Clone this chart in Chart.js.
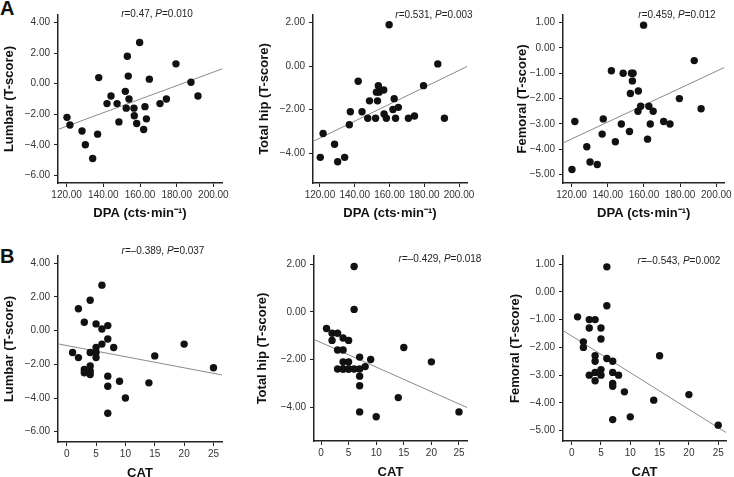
<!DOCTYPE html>
<html>
<head>
<meta charset="utf-8">
<script src="https://cdn.jsdelivr.net/npm/chart.js@4.4.1/dist/chart.umd.min.js"></script>
<style>
  html, body { margin: 0; padding: 0; background: #fff; overflow: hidden; width: 734px; height: 477px; }
  canvas { position: absolute; }
  .tag { position: absolute; font: bold 20px "Liberation Sans", Arial, sans-serif; color: #111; }
</style>
</head>
<body>
<div class="tag" style="left:0px;top:-3px">A</div>
<div class="tag" style="left:0px;top:245px">B</div>
<canvas id="c0"></canvas>
<canvas id="c1"></canvas>
<canvas id="c2"></canvas>
<canvas id="c3"></canvas>
<canvas id="c4"></canvas>
<canvas id="c5"></canvas>
<script>
// DPA and CAT per patient (x values)
const dpa = [120.2, 121.8, 128.4, 130.2, 134.2, 136.9, 137.5, 142.0, 144.2, 147.5, 148.5, 152.0, 152.5, 153.1, 153.6,
             154.0, 156.7, 156.9, 158.2, 159.8, 162.0, 162.7, 163.5, 165.1, 170.9, 174.4, 179.6, 187.8, 191.6]
const cat = [1, 2, 2, 3, 3, 3, 4, 4, 4, 4, 4, 5, 5, 5, 5, 6, 6, 6, 7, 7, 7, 7, 7, 8, 9, 10, 14, 15, 20, 25]

// T-scores against DPA (row A)
const lumbarA = [-2.2, -2.7, -3.1, -4.0, -4.9, -3.3, 0.4, -1.3, -0.8, -1.3, -2.5, -0.5, -1.6, 1.8, 0.5,
                 -1.0, -1.6, -2.1, -2.6, 2.7, -3.0, -1.5, -2.3, 0.3, -1.3, -1.0, 1.3, 0.1, -0.8]
const hipA = [-4.2, -3.1, -3.6, -4.4, -4.2, -2.7, -2.1, -0.7, -2.1, -2.4, -1.6, -2.4, -1.2, -1.6, -0.9,
              -1.2, -1.1, -2.2, -2.4, 1.9, -2.0, -1.5, -2.4, -1.9, -2.4, -2.3, -0.9, 0.1, -2.4]
const femoralA = [-4.8, -2.9, -3.9, -4.5, -4.6, -3.4, -2.8, -0.9, -3.7, -3.0, -1.0, -3.3, -1.8, -1.0, -1.3,
                  -1.0, -2.5, -1.7, -2.3, 0.9, -3.6, -2.3, -3.0, -2.5, -2.9, -3.0, -2.0, -0.5, -2.4]

// T-scores against CAT (row B)
const lumbarB = [-1.3, 1.3, -1.6, 0.5, -2.3, -2.5, 1.8, -1.3, -2.1, -2.4, -2.6, 0.4, -1.0, -1.3, -1.6,
                 2.7, 0.1, -0.8, 0.3, -0.5, -2.7, -3.3, -4.9, -1.0, -3.0, -4.0, -3.1, -1.5, -0.8, -2.2]
const hipB = [-0.7, -0.9, -1.2, -0.9, -1.6, -2.4, -1.1, -1.6, -2.1, -2.4, -2.4, -1.2, -2.1, -2.4, -2.4,
              1.9, 0.1, -2.4, -1.9, -2.4, -2.7, -3.1, -4.2, -2.3, -2.0, -4.4, -3.6, -1.5, -2.1, -4.2]
const femoralB = [-0.9, -1.8, -2.0, -1.0, -1.3, -3.0, -1.0, -2.3, -2.5, -2.9, -3.2, -1.3, -1.7, -2.8, -3.0,
                  0.9, -0.5, -2.4, -2.5, -2.9, -3.3, -3.4, -4.6, -3.0, -3.6, -4.5, -3.9, -2.3, -3.7, -4.8]

// fitted lines [slope, intercept]
const fits = [[0.0443, -8.10], [0.0389, -7.98], [0.0334, -7.60], [-0.0661, -0.884], [-0.103, -1.29], [-0.132, -1.59]]
const statR = ['0.47', '0.531', '0.459', '–0.389', '–0.429', '–0.543']
const statP = ['0.010', '0.003', '0.012', '0.037', '0.018', '0.002']

// tick labels
const dpaTicks = [120, 140, 160, 180, 200]
const catTicks = [0, 5, 10, 15, 20, 25]
const lumbarTicks = [-6, -4, -2, 0, 2, 4]
const hipTicks = [-4, -2, 0, 2]
const femoralTicks = [-5, -4, -3, -2, -1, 0, 1]

const FONT = '"Liberation Sans", Arial, sans-serif'
const dpaTitle = 'DPA (cts·min⁻¹)'

// layout: canvas box, plot area (page coords), axis ranges, note centre
const panels = [
  { x0: 2, y0: 0, w: 243, h: 221, area: [58, 15, 222, 183], xs: dpa, ys: lumbarA, xt: dpaTicks, yt: lumbarTicks,
    xr: [115.3, 204.7], yr: [-6.5, 4.5], xTitle: dpaTitle, yTitle: 'Lumbar (T-score)', dec: 2, note: [157, 14] },
  { x0: 257, y0: 0, w: 233, h: 221, area: [313, 15, 467, 183], xs: dpa, ys: hipA, xt: dpaTicks, yt: hipTicks,
    xr: [116.0, 204.6], yr: [-5.38, 2.35], xTitle: dpaTitle, yTitle: 'Total hip (T-score)', dec: 2, note: [434, 15] },
  { x0: 515, y0: 0, w: 219, h: 221, area: [563, 15, 726, 183], xs: dpa, ys: femoralA, xt: dpaTicks, yt: femoralTicks,
    xr: [115.25, 204.5], yr: [-5.33, 1.3], xTitle: dpaTitle, yTitle: 'Femoral (T-score)', dec: 2, note: [677, 15] },
  { x0: 2, y0: 235, w: 243, h: 246, area: [58, 256, 222, 442], xs: cat, ys: lumbarB, xt: catTicks, yt: lumbarTicks,
    xr: [-1.48, 26.45], yr: [-6.61, 4.43], xTitle: 'CAT', yTitle: 'Lumbar (T-score)', dec: 0, note: [163, 251] },
  { x0: 255, y0: 235, w: 235, h: 245, area: [314, 256, 467, 441], xs: cat, ys: hipB, xt: catTicks, yt: hipTicks,
    xr: [-1.27, 26.45], yr: [-5.42, 2.34], xTitle: 'CAT', yTitle: 'Total hip (T-score)', dec: 0, note: [440, 259] },
  { x0: 508, y0: 235, w: 226, h: 245, area: [563, 256, 726, 441], xs: cat, ys: femoralB, xt: catTicks, yt: femoralTicks,
    xr: [-1.48, 26.33], yr: [-5.37, 1.29], xTitle: 'CAT', yTitle: 'Femoral (T-score)', dec: 0, note: [679, 261] }
]

// r / P annotation with italic letters
const notePlugin = {
  id: 'note',
  afterDraw(chart, args, opts) {
    const ctx = chart.ctx
    const parts = [['r', 'italic '], ['=' + opts.r + ', ', ''], ['P', 'italic '], ['=' + opts.p, '']]
    ctx.save()
    ctx.fillStyle = '#222'
    ctx.textBaseline = 'middle'
    let total = 0
    parts.forEach(p => { ctx.font = p[1] + '10px ' + FONT; total += ctx.measureText(p[0]).width })
    let x = opts.x - total / 2
    parts.forEach(p => {
      ctx.font = p[1] + '10px ' + FONT
      ctx.fillText(p[0], x, opts.y)
      x += ctx.measureText(p[0]).width
    })
    ctx.restore()
  }
}

const yLabel = v => (v < 0 ? '\u2212' : '') + Math.abs(v).toFixed(2)

panels.forEach((p, i) => {
  const canvas = document.getElementById('c' + i)
  canvas.width = p.w
  canvas.height = p.h
  canvas.style.left = p.x0 + 'px'
  canvas.style.top = p.y0 + 'px'

  const [slope, icpt] = fits[i]
  const points = p.xs.map((x, k) => ({ x: x, y: p.ys[k] }))
  const fitLine = p.xr.map(x => ({ x: x, y: icpt + slope * x }))

  const axisCommon = {
    type: 'linear',
    border: { color: '#222', width: 1.5 },
    grid: { drawOnChartArea: false, tickLength: 4, color: '#222', tickWidth: 1 }
  }

  new Chart(canvas, {
    type: 'scatter',
    data: {
      datasets: [{
        data: points,
        backgroundColor: '#111',
        borderColor: '#111',
        borderWidth: 0,
        pointRadius: 3.7,
        order: 0
      }, {
        type: 'line',
        data: fitLine,
        borderColor: '#8a8a8a',
        borderWidth: 1,
        pointRadius: 0,
        order: 1
      }]
    },
    options: {
      responsive: false,
      animation: false,
      events: [],
      layout: { padding: { left: 0, bottom: 0, top: p.area[1] - p.y0, right: p.x0 + p.w - p.area[2] } },
      plugins: {
        legend: { display: false },
        tooltip: { enabled: false },
        note: { r: statR[i], p: statP[i], x: p.note[0] - p.x0, y: p.note[1] - p.y0 }
      },
      scales: {
        x: Object.assign({}, axisCommon, {
          min: p.xr[0], max: p.xr[1],
          afterBuildTicks: s => { s.ticks = p.xt.map(v => ({ value: v })) },
          afterFit: s => { s.height = p.y0 + p.h - p.area[3] },
          ticks: { color: '#333', font: { size: 10, family: FONT }, padding: 2, maxRotation: 0, autoSkip: false,
                   callback: v => v.toFixed(p.dec) },
          title: { display: true, text: p.xTitle, color: '#111', padding: 0, font: { size: 13, weight: 'bold', family: FONT } }
        }),
        y: Object.assign({}, axisCommon, {
          min: p.yr[0], max: p.yr[1],
          afterBuildTicks: s => { s.ticks = p.yt.map(v => ({ value: v })) },
          afterFit: s => { s.width = p.area[0] - p.x0 },
          ticks: { color: '#333', font: { size: 10, family: FONT }, padding: 4, autoSkip: false, callback: yLabel },
          title: { display: true, text: p.yTitle, color: '#111', padding: 0, font: { size: 13, weight: 'bold', family: FONT } }
        })
      }
    },
    plugins: [notePlugin]
  })
})
</script>
</body>
</html>
